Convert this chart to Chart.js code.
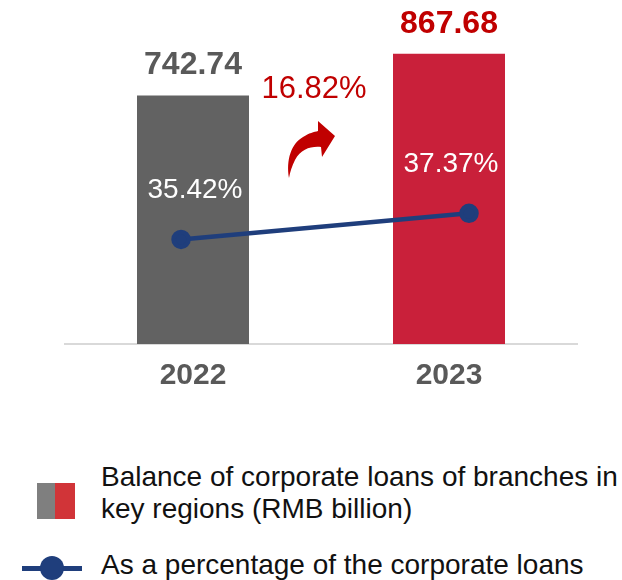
<!DOCTYPE html>
<html>
<head>
<meta charset="utf-8">
<script src="https://cdn.jsdelivr.net/npm/chart.js@4.4.1/dist/chart.umd.min.js"></script>
<style>
  body { margin: 0; background: #fff; overflow: hidden; }
  #wrap { position: relative; width: 622px; height: 580px; font-family: "Liberation Sans", Arial, sans-serif; }
  #box { position: absolute; left: 0; top: 0; width: 622px; height: 415px; }
  .legend-item { position: absolute; left: 101px; font-size: 28px; line-height: 32px; color: #111; white-space: nowrap; }
  .icon-bar { position: absolute; left: 37px; top: 483px; width: 38px; height: 36px; }
  .icon-bar span { float: left; height: 36px; }
  .icon-line { position: absolute; left: 22px; top: 556px; width: 60px; height: 24px; }
  .icon-line i { position: absolute; left: 0; top: 9.5px; width: 60px; height: 5px; background: #1F3E7C; }
  .icon-line b { position: absolute; left: 18px; top: 0; width: 24px; height: 24px; border-radius: 50%; background: #1F3E7C; }
</style>
</head>
<body>
<div id="wrap">
  <div id="box"><canvas id="myChart"></canvas></div>
  <div class="icon-bar"><span style="width:18px;background:#7F7F7F"></span><span style="width:20px;background:#D13438"></span></div>
  <div class="legend-item" style="top:461px">Balance of corporate loans of branches in<br>key regions (RMB billion)</div>
  <div class="icon-line"><i></i><b></b></div>
  <div class="legend-item" style="top:549px">As a percentage of the corporate loans</div>
</div>
<script>
const years = ['2022', '2023'];
const loanBalance = [742.74, 867.68];   // RMB billion
const loanShare = [35.42, 37.37];       // % of corporate loans

const barColors = ['#626262', '#C9203A'];
const valueColors = ['#595959', '#C00000'];
const lineColor = '#1F3E7C';
const FONT = '"Liberation Sans", Arial, sans-serif';

// value labels, share labels, growth label and the curved arrow
const labelPlugin = {
  id: 'labels',
  afterDatasetsDraw(chart) {
    const ctx = chart.ctx;
    const bars = chart.getDatasetMeta(0).data;
    const points = chart.getDatasetMeta(1).data;
    const area = chart.chartArea;
    ctx.save();
    ctx.textAlign = 'center';
    ctx.textBaseline = 'middle';

    ctx.font = 'bold 32px ' + FONT;
    bars.forEach((bar, i) => {
      ctx.fillStyle = valueColors[i];
      ctx.fillText(loanBalance[i].toFixed(2), bar.x, bar.y - 30);
    });

    ctx.font = '28px ' + FONT;
    ctx.fillStyle = '#fff';
    bars.forEach((bar, i) => {
      ctx.fillText(loanShare[i].toFixed(2) + '%', bar.x + 2, points[i].y - 49);
    });

    // growth between the two years
    const growth = (loanBalance[1] / loanBalance[0] - 1) * 100;
    const mid = (bars[0].x + bars[1].x) / 2;
    ctx.font = '31px ' + FONT;
    ctx.fillStyle = '#C00000';
    ctx.fillText(growth.toFixed(2) + '%', mid - 7, area.top + 46);

    // curved arrow
    const ox = mid - 32, oy = area.top + 135;
    ctx.beginPath();
    ctx.moveTo(ox, oy);
    ctx.bezierCurveTo(ox - 3, oy - 18, ox + 2, oy - 34, ox + 14, oy - 41);
    ctx.bezierCurveTo(ox + 20, oy - 45, ox + 25, oy - 46, ox + 29, oy - 47);
    ctx.lineTo(ox + 29, oy - 57);
    ctx.lineTo(ox + 46, oy - 42);
    ctx.lineTo(ox + 33, oy - 21);
    ctx.lineTo(ox + 32, oy - 31);
    ctx.bezierCurveTo(ox + 22, oy - 32, ox + 12, oy - 29, ox + 6, oy - 18);
    ctx.bezierCurveTo(ox + 3, oy - 12, ox + 1, oy - 6, ox, oy);
    ctx.closePath();
    ctx.fill();
    ctx.restore();
  }
};

new Chart(document.getElementById('myChart'), {
  type: 'bar',
  data: {
    labels: years,
    datasets: [
      {
        label: 'Balance of corporate loans of branches in key regions (RMB billion)',
        data: loanBalance,
        backgroundColor: barColors,
        grouped: false,
        categoryPercentage: 1,
        barPercentage: 0.4375,
        order: 1
      },
      {
        type: 'line',
        label: 'As a percentage of the corporate loans',
        data: loanShare.map((v, i) => ({ x: i, y: v })),
        xAxisID: 'xLine',
        yAxisID: 'yShare',
        borderColor: lineColor,
        borderWidth: 4.5,
        pointRadius: 7.5,
        pointBackgroundColor: lineColor,
        pointBorderColor: lineColor,
        order: 0
      }
    ]
  },
  options: {
    responsive: true,
    maintainAspectRatio: false,
    animation: false,
    layout: { padding: { left: 65, right: 45, top: 43, bottom: 7 } },
    plugins: {
      legend: { display: false },
      tooltip: { enabled: false }
    },
    scales: {
      x: {
        type: 'category',
        offset: true,
        grid: { display: false, drawTicks: false },
        border: { display: true, color: '#D9D9D9', width: 2 },
        ticks: { color: '#595959', padding: 14, font: { family: FONT, size: 30, weight: 'bold' } }
      },
      // the line sits on its own axis, wider than the categories
      xLine: {
        type: 'linear',
        display: false,
        offset: false,
        min: -0.403,
        max: 1.375
      },
      y: { display: false, min: 0, max: 900 },
      yShare: { display: false, min: 27.6, max: 50.1 }
    }
  },
  plugins: [labelPlugin]
});
</script>
</body>
</html>
